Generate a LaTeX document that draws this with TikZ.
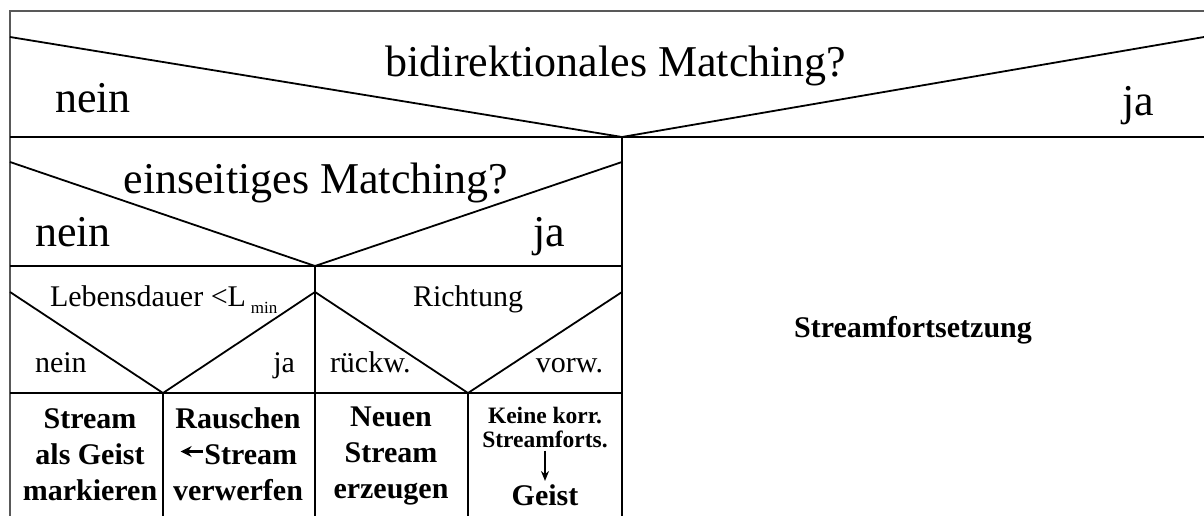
\documentclass[tikz,border=0pt]{standalone}
\usepackage{fontspec}
\setmainfont{Liberation Serif}
\usetikzlibrary{arrows.meta}

\tikzset{
  frame/.style={draw=black!65, line width=1.4pt},
  rule/.style={draw=black, line width=1.8pt},
  txt/.style={anchor=base, inner sep=0pt, outer sep=0pt},
  big/.style={txt, font=\fontsize{44}{48}\selectfont},
  mid/.style={txt, font=\fontsize{30}{34}\selectfont},
  act/.style={anchor=base, inner sep=0pt, align=center,
              font=\fontsize{30}{36}\selectfont\bfseries},
  small/.style={anchor=base, inner sep=0pt, align=center,
                font=\fontsize{23.5}{24}\selectfont\bfseries},
}

% small bold arrow used inside a text line
\newcommand{\inlinearrow}{\raisebox{7pt}{\tikz\draw[line width=3.5pt,
  {Stealth[length=11pt,width=11pt]}-] (0,0) -- (22pt,0);}}

\begin{document}
\begin{tikzpicture}[x=1pt, y=-1pt]
  \useasboundingbox (0,0) rectangle (1204,516);

  % outer frame (top and left edge)
  \draw[frame] (10,516) -- (10,11) -- (1204,11);

  % level 1: bidirectional matching
  \draw[rule] (10,37) -- (622,137) -- (1204,37);
  \draw[rule] (10,137) -- (1204,137);
  \draw[rule] (622,137) -- (622,516);

  % level 2: one-sided matching
  \draw[rule] (10,162) -- (315,266) -- (622,162);
  \draw[rule] (10,266) -- (622,266);
  \draw[rule] (315,266) -- (315,516);

  % level 3: lifetime and direction
  \draw[rule] (10,292) -- (163,393) -- (315,292) -- (468,393) -- (622,292);
  \draw[rule] (10,393) -- (622,393);
  \draw[rule] (163,393) -- (163,516);
  \draw[rule] (468,393) -- (468,516);

  % conditions
  \node[big] (q1) at (616,77) {bidirektionales Matching?};
  \node[big, anchor=base west] (q1n) at (55,113) {nein};
  \node[big, anchor=base east] (q1j) at (1154,116) {ja};

  \node[big] (q2) at (316,193) {einseitiges Matching?};
  \node[big, anchor=base west] (q2n) at (35,246) {nein};
  \node[big, anchor=base east] (q2j) at (565,246) {ja};

  \node[mid, anchor=base west] (q3) at (50,306)
    {Lebensdauer <L\,{\fontsize{17}{18}\selectfont\raisebox{-7pt}{min}}};
  \node[mid, anchor=base west] (q3n) at (35,372) {nein};
  \node[mid, anchor=base east] (q3j) at (295,372) {ja};

  \node[mid] (q4) at (468,306) {Richtung};
  \node[mid, anchor=base west] (q4r) at (330,372) {rückw.};
  \node[mid, anchor=base east] (q4v) at (603,372) {vorw.};

  % actions (anchored at the baseline of their last line)
  \node[act] (a1) at (90,500) {Stream\\als Geist\\markieren};
  \node[act] (a2) at (238,500) {Rauschen\\\inlinearrow Stream\\verwerfen};
  \node[act] (a3) at (391,498) {Neuen\\Stream\\erzeugen};
  \node[small] (a4) at (545,447) {Keine korr.\\Streamforts.};
  \node[act] (a4g) at (545,505) {Geist};
  \draw[line width=1.8pt, -{Stealth[length=10pt,width=8pt]}]
    ([yshift=-3pt]a4.south) -- ([yshift=3pt]a4g.north);

  \node[act] (a5) at (913,337) {Streamfortsetzung};
\end{tikzpicture}
\end{document}
